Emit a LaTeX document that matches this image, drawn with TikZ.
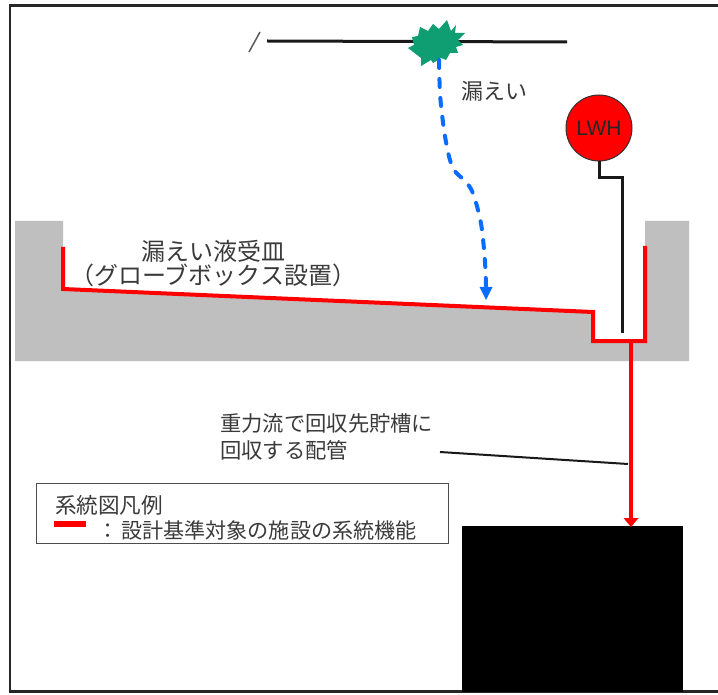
\documentclass[tikz,border=0pt]{standalone}
\usepackage{fontspec}
\setmainfont{Noto Sans CJK JP}[Scale=1]
\setsansfont{Liberation Sans}
\usetikzlibrary{arrows.meta}
\definecolor{tray}{HTML}{BFBFBF}
\definecolor{leak}{HTML}{0F9D72}
\definecolor{drip}{HTML}{0A6CFF}
\definecolor{ink}{HTML}{3A3A3A}
\tikzset{
  redpipe/.style={draw=red,line width=4pt,line join=miter},
  blackpipe/.style={draw=black!90,line width=3pt},
  label/.style={text=ink,font=\fontsize{20.5}{25}\selectfont,inner sep=0pt,anchor=base west},
}
\begin{document}
\begin{tikzpicture}[x=1pt,y=-1pt]
\useasboundingbox (0,0) rectangle (718,695);
\fill[white] (0,0) rectangle (718,695);
% outer frame
\draw[line width=2.8pt,draw=black!85] (730,5.5) -- (10,5.5) -- (10,691.5) -- (730,691.5);
% tray body
\fill[tray] (15,221) -- (63,221) -- (63,289) -- (593,312) -- (593,341) -- (645,341) -- (645,221) -- (689,221) -- (689,361) -- (15,361) -- cycle;
% named points
\coordinate (pipeL) at (267,41);
\coordinate (pipeR) at (567,42);
\coordinate (drainTop) at (631,341);
\coordinate (leadA) at (440,452);
\coordinate (leadB) at (628,464);
% pipe and slash
\draw[blackpipe] (pipeL) -- (pipeR);
\draw[draw=black!65,line width=1.5pt] (249,52) -- (260,32);
% leak burst
\fill[leak] (447,20) -- (451,31) -- (456,25) -- (455,33) -- (465,33) -- (458,40) -- (463,45) -- (456,47) -- (458,53) -- (450,53) -- (446,60) -- (441,58) -- (433,63) -- (431,60) -- (421,66) -- (421,58) -- (408,48) -- (414,45) -- (412,37) -- (418,36) -- (420,27) -- (428,31) -- (433,24) -- (439,29) -- cycle;
% tank
\node[fill=black,draw=none,minimum width=221pt,minimum height=165.5pt,inner sep=0pt,anchor=north west] (tank) at (462,526) {};
% drips
\draw[draw=drip,line width=4pt,dash pattern=on 8pt off 11pt,line cap=round]
  plot[smooth,tension=0.6] coordinates {(439,60) (440.5,100) (446,142) (453,168) (465,181) (472,191) (478,210) (482,230) (485,262) (486,286)};
\fill[drip] (479.5,287) -- (492.5,287) -- (486,300) -- cycle;
% tray liner
\draw[redpipe] (63,247) -- (63,289) -- (593,312) -- (593,341) -- (645,341) -- (645,246);
% drain
\draw[draw=red,line width=3.4pt] (drainTop) -- (631,520);
\fill[red] (623.5,518) -- (638.5,518) -- (631,527) -- cycle;
% LWH
\node[circle,draw=black!80,fill=red,line width=1pt,minimum size=66pt,inner sep=0pt,font=\sffamily\fontsize{21}{21}\selectfont,text=black!85] (lwh) at (599,128) {LWH};
\draw[blackpipe] (lwh.south) -- (599,178) -- (622,178) -- (622,333);
% leader
\draw[draw=black!90,line width=2pt] (leadA) -- (leadB);
% labels
\node[label,font=\fontsize{22}{25}\selectfont] (tA) at (461.5,99.5) {漏えい};
\node[label,font=\fontsize{24}{25}\selectfont] (tB) at (141,261) {漏えい液受皿};
\node[label,font=\fontsize{24}{25}\selectfont] (tC) at (70,284.5) {（グローブボックス設置）};
\node[label,font=\fontsize{21.3}{25}\selectfont] (tD) at (220,431) {重力流で回収先貯槽に};
\node[label,font=\fontsize{21.3}{25}\selectfont] (tE) at (220,458) {回収する配管};
% legend
\node[draw=black!70,line width=1.2pt,fill=none,minimum width=412pt,minimum height=60pt,inner sep=0pt,anchor=north west] (legend) at (36,483) {};
\node[label,font=\fontsize{21.6}{25}\selectfont] (tF) at (55,513) {系統図凡例};
\fill[red] (54,521) rectangle (86,526.5);
\node[label,font=\fontsize{21.1}{25}\selectfont] (tG) at (97,538) {：\hspace{3pt}設計基準対象の施設の系統機能};
\end{tikzpicture}
\end{document}
